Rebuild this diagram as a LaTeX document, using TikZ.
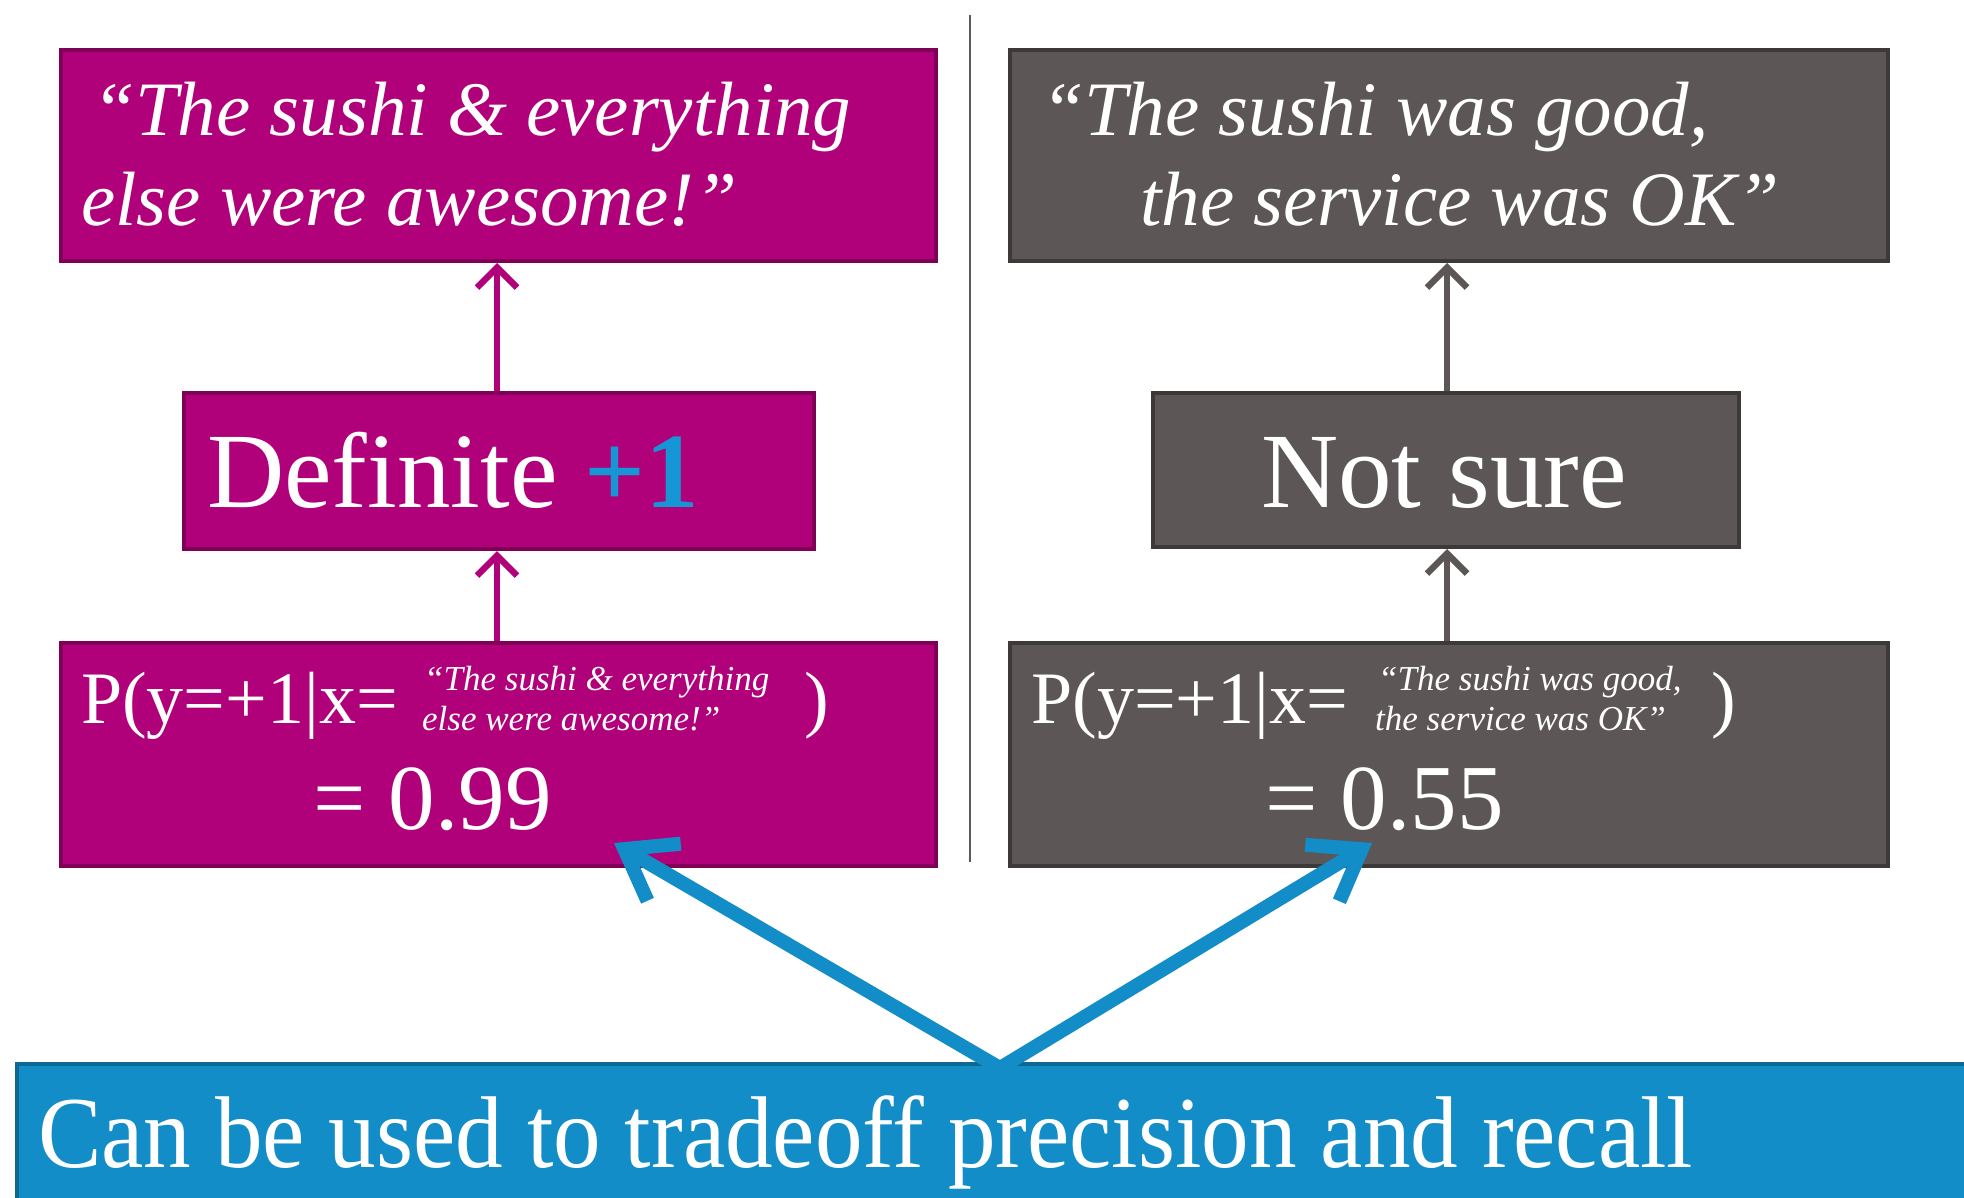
\documentclass[tikz,border=0pt]{standalone}
\usepackage{fontspec}
\setmainfont{Liberation Serif}
\usetikzlibrary{arrows.meta}

\definecolor{magfill}{RGB}{176,0,122}
\definecolor{magline}{RGB}{128,0,88}
\definecolor{grayfill}{RGB}{93,86,86}
\definecolor{grayline}{RGB}{62,57,57}
\definecolor{bluefill}{RGB}{18,141,199}
\definecolor{blueline}{RGB}{14,104,148}
\definecolor{plusblue}{RGB}{22,150,212}
\definecolor{divider}{RGB}{90,90,90}

\tikzset{
  panel/.style={draw, line width=4pt, anchor=north west, inner sep=0pt},
  magbox/.style={panel, fill=magfill, draw=magline},
  graybox/.style={panel, fill=grayfill, draw=grayline},
  txt/.style={text=white, inner sep=0pt, anchor=base west},
  quote/.style={txt, font=\fontsize{77}{90}\selectfont\itshape},
  small quote/.style={txt, font=\fontsize{35}{40}\selectfont\itshape},
  big label/.style={txt, font=\fontsize{107}{120}\selectfont},
  prob/.style={txt, font=\fontsize{74}{80}\selectfont},
  value/.style={txt, font=\fontsize{93}{100}\selectfont},
  up arrow/.style={line width=6.5pt, -{Straight Barb[length=20pt,width=40pt]}},
  blue arrow/.style={draw=bluefill, line width=14pt,
    -{Straight Barb[length=46pt,width=66pt]}}
}

\begin{document}
\begin{tikzpicture}[x=1pt, y=-1pt]
\useasboundingbox (0,0) rectangle (1964,1197);

% divider between the two examples
\coordinate (divtop) at (969.5,15);
\coordinate (divbot) at (969.5,862);
\draw[divider, line width=2pt] (divtop) -- (divbot);

% left column: confident prediction
\node[magbox, minimum width=875pt, minimum height=211pt] (lt) at (59,48) {};
\node[quote] (lt1) at (92,135) {“The sushi \& everything};
\node[quote] (lt2) at (81,225) {else were awesome!”};

\node[magbox, minimum width=630pt, minimum height=156pt] (lm) at (182,391) {};
\node[big label] (lmt) at (207,507) {Definite \textcolor{plusblue}{\bfseries +1}};

\node[magbox, minimum width=875pt, minimum height=223pt] (lb) at (59,641) {};
\node[prob] (lbp) at (81,723) {P(y=+1|x=};
\node[small quote] (lbq1) at (424,690) {“The sushi \& everything};
\node[small quote] (lbq2) at (422,730) {else were awesome!”};
\node[prob] (lbc) at (804,723) {)};
\node[value] (lbv) at (313,829) {= 0.99};

\draw[magfill, up arrow] (lm.north -| 497,0) -- (lt.south -| 497,0);
\draw[magfill, up arrow] (lb.north -| 497,0) -- (lm.south -| 497,0);

% right column: uncertain prediction
\node[graybox, minimum width=878pt, minimum height=211pt] (rt) at (1008,48) {};
\node[quote] (rt1) at (1041,135) {“The sushi was good,};
\node[quote] (rt2) at (1140,225) {the service was OK”};

\node[graybox, minimum width=586pt, minimum height=154pt] (rm) at (1151,391) {};
\node[big label] (rmt) at (1261,507) {Not sure};

\node[graybox, minimum width=878pt, minimum height=223pt] (rb) at (1008,641) {};
\node[prob] (rbp) at (1031,723) {P(y=+1|x=};
\node[small quote] (rbq1) at (1378,690) {“The sushi was good,};
\node[small quote] (rbq2) at (1375,730) {the service was OK”};
\node[prob] (rbc) at (1711,723) {)};
\node[value] (rbv) at (1265,829) {= 0.55};

\draw[grayfill, up arrow] (rm.north -| 1447,0) -- (rt.south -| 1447,0);
\draw[grayfill, up arrow] (rb.north -| 1447,0) -- (rm.south -| 1447,0);

% bottom banner
\node[panel, fill=bluefill, draw=blueline, minimum width=1960pt, minimum height=140pt] (banner) at (15,1062) {};
\node[txt, font=\fontsize{102}{110}\selectfont, xscale=0.933] (bannert) at (38,1167) {Can be used to tradeoff precision and recall};

% arrows from the banner to both probabilities
\coordinate (apex) at (1000,1068);
\coordinate (tipL) at (614,843);
\coordinate (tipR) at (1372,843);
\draw[blue arrow] (apex) -- (tipL);
\draw[blue arrow] (apex) -- (tipR);
\end{tikzpicture}
\end{document}
